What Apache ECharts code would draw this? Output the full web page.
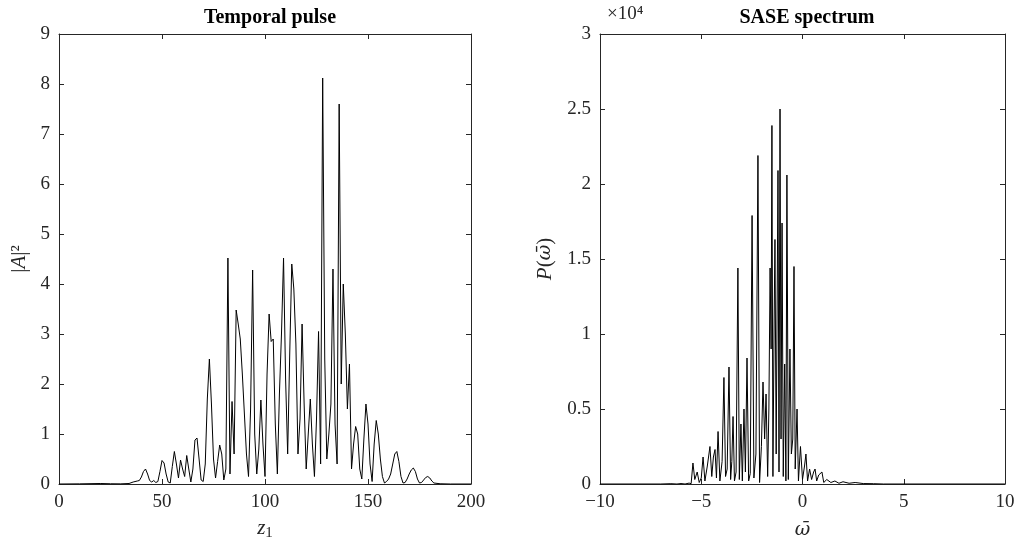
<!DOCTYPE html>
<html><head><meta charset="utf-8">
<script src="https://cdn.jsdelivr.net/npm/echarts@6/dist/echarts.min.js"></script>
<style>html,body{margin:0;padding:0;background:#fff}#c{width:1026px;height:544px}</style>
</head><body><div id="c"></div>
<script>
// Temporal pulse |A|^2 vs z1
const zVals = [0,10,20,25,30,34,36,38,39,40,41,42,43,44,45,46,47,48,49,50,51,52,53,54,55,56,57,58,59,60,61,62,63,64,65,66,67,68,69,70,71,72,73,74,75,76,77,78,79,80,81,82,83,84,85,86,87,88,89,90,91,92,93,94,95,96,97,98,99,100,101,102,103,104,105,106,107,108,109,110,111,112,113,114,115,116,117,118,119,120,121,122,123,124,125,126,127,128,129,130,131,132,133,134,135,136,137,138,139,140,141,142,143,144,145,146,147,148,149,150,151,152,153,154,155,156,157,158,159,160,161,162,163,164,165,166,167,168,169,170,171,172,173,174,175,176,177,178,179,180,181,182,185,190,200];
const aVals = [0,0.003,0.01,0.005,0.003,0.01,0.04,0.06,0.07,0.14,0.25,0.3,0.2,0.07,0.04,0.07,0.03,0.05,0.25,0.47,0.42,0.2,0.04,0.02,0.35,0.65,0.4,0.12,0.48,0.3,0.15,0.57,0.3,0.04,0.3,0.88,0.92,0.5,0.08,0.05,0.4,1.7,2.5,1.6,0.5,0.12,0.45,0.78,0.6,0.08,0.3,4.52,0.2,1.65,0.6,3.48,3.2,2.9,2.2,1.4,0.6,0.15,1.5,4.28,1.0,0.2,0.7,1.68,0.8,0.15,2.2,3.4,2.85,2.9,1.2,0.2,1.8,3.0,4.52,2.1,0.6,2.6,4.4,3.9,2.8,0.6,1.3,3.2,1.6,0.3,1.0,1.7,0.8,0.15,1.3,3.05,0.4,8.12,2.5,0.5,1.0,1.6,4.3,1.2,0.4,7.6,2.0,4.0,3.0,1.5,2.4,0.3,0.8,1.15,1.0,0.3,0.1,0.9,1.6,1.2,0.4,0.05,0.8,1.27,1.0,0.5,0.15,0.02,0.05,0.1,0.2,0.4,0.6,0.65,0.45,0.15,0.02,0.03,0.1,0.2,0.28,0.32,0.25,0.1,0.02,0.03,0.08,0.13,0.15,0.12,0.06,0.02,0.005,0,0];

// SASE spectrum P(omega)
const omegaVals = [-10,-7,-6.5,-6.2,-6,-5.8,-5.6,-5.5,-5.41,-5.32,-5.2,-5.1,-5.0,-4.91,-4.82,-4.7,-4.57,-4.48,-4.4,-4.32,-4.25,-4.17,-4.08,-3.97,-3.88,-3.80,-3.72,-3.63,-3.55,-3.49,-3.43,-3.36,-3.28,-3.19,-3.12,-3.04,-2.97,-2.89,-2.82,-2.74,-2.66,-2.58,-2.49,-2.40,-2.30,-2.20,-2.12,-2.03,-1.95,-1.87,-1.80,-1.72,-1.66,-1.60,-1.55,-1.51,-1.46,-1.40,-1.36,-1.30,-1.21,-1.16,-1.11,-1.06,-1.01,-0.95,-0.88,-0.82,-0.77,-0.70,-0.62,-0.55,-0.48,-0.42,-0.36,-0.27,-0.2,-0.1,0.0,0.1,0.17,0.25,0.35,0.45,0.55,0.62,0.7,0.8,0.96,1.05,1.2,1.4,1.6,1.8,2.0,2.3,2.6,3.0,3.5,4,10];
const powerVals = [0,0,20,0,30,0,60,20,1400,300,800,100,400,1800,200,1200,2500,500,1800,2300,400,3500,200,1500,7100,500,1000,7800,300,1500,4500,200,800,14400,300,4000,200,5000,800,8400,200,700,17900,400,2000,21900,100,2500,6800,3000,6000,500,5000,14400,9000,23900,500,11000,16300,2000,20900,800,25000,3000,17400,500,8000,200,20600,300,9000,2000,3000,14500,1000,5000,200,2500,300,1200,2000,200,1000,300,800,1000,200,600,800,100,300,100,200,50,150,50,100,30,20,0,0];

const serif = '"Liberation Serif","DejaVu Serif",serif';
const dserif = '"DejaVu Serif","Liberation Serif",serif';
const ink = '#262626';
const pulseData = zVals.map((z,i)=>[z,aVals[i]]);
const specData = omegaVals.map((w,i)=>[w,powerVals[i]]);

const nameRich = {
  i:{fontFamily:serif,fontSize:21,fontStyle:'italic',color:ink},
  n:{fontFamily:serif,fontSize:21,color:ink},
  w:{fontFamily:dserif,fontSize:19,fontStyle:'italic',color:ink},
  s:{fontFamily:serif,fontSize:15,color:ink,padding:[10,0,0,0]}
};

function xAx(grid,pos,min,max,interval,name,show,gap){
  return {type:'value',gridIndex:grid,position:pos,min:min,max:max,interval:interval,
    name:show?name:'',nameLocation:'middle',nameGap:gap||38,
    nameTextStyle:{color:ink,rich:nameRich},
    axisLine:{show:true,onZero:false,lineStyle:{color:ink,width:1}},
    axisTick:{show:true,inside:true,length:5,lineStyle:{color:ink}},
    axisLabel:{show:show,fontFamily:serif,fontSize:19,color:ink,margin:9,
      formatter:v=>v<0?'\u2212'+Math.abs(v):String(v)},
    splitLine:{show:false}};
}
function yAx(grid,pos,min,max,interval,name,show,fmt){
  return {type:'value',gridIndex:grid,position:pos,min:min,max:max,interval:interval,
    name:show?name:'',nameLocation:'middle',nameGap:show?(grid===0?29:44):0,nameRotate:90,
    nameTextStyle:{color:ink,rich:nameRich},
    axisLine:{show:true,onZero:false,lineStyle:{color:ink,width:1}},
    axisTick:{show:true,inside:true,length:5,lineStyle:{color:ink}},
    axisLabel:{show:show,fontFamily:serif,fontSize:19,color:ink,margin:9,formatter:fmt},
    splitLine:{show:false}};
}

const chart = echarts.init(document.getElementById('c'),null,{renderer:'canvas'});
chart.setOption({
  backgroundColor:'#fff',
  animation:false,
  title:[
    {text:'Temporal pulse',left:265,top:3,textAlign:'center',textStyle:{fontFamily:serif,fontSize:20,fontWeight:'bold',color:'#000'}},
    {text:'SASE spectrum',left:802,top:3,textAlign:'center',textStyle:{fontFamily:serif,fontSize:20,fontWeight:'bold',color:'#000'}},
    {text:'\u00d710\u2074',left:602,top:0,textStyle:{fontFamily:serif,fontSize:19,fontWeight:'normal',color:ink}}
  ],
  grid:[
    {left:59,right:555,top:34,bottom:60,containLabel:false,outerBoundsMode:'none'},
    {left:600,right:21,top:34,bottom:60,containLabel:false,outerBoundsMode:'none'}
  ],
  xAxis:[
    xAx(0,'bottom',0,200,50,'{i|z}{s|1}',true,32),
    xAx(0,'top',0,200,50,'',false),
    xAx(1,'bottom',-10,10,5,'{w|\u03c9\u0304}',true,37),
    xAx(1,'top',-10,10,5,'',false)
  ],
  yAxis:[
    yAx(0,'left',0,9,1,'{n||}{i|A}{n||\u00b2}',true,v=>String(v)),
    yAx(0,'right',0,9,1,'',false),
    yAx(1,'left',0,30000,5000,'{i|P}{n|(}{w|\u03c9\u0304}{n|)}',true,v=>String(v/10000)),
    yAx(1,'right',0,30000,5000,'',false)
  ],
  series:[
    {type:'line',xAxisIndex:0,yAxisIndex:0,data:pulseData,showSymbol:false,smooth:false,
      lineStyle:{color:'#000',width:1},z:3},
    {type:'line',xAxisIndex:2,yAxisIndex:2,data:specData,showSymbol:false,smooth:false,
      lineStyle:{color:'#000',width:1},z:3}
  ]
});
</script></body></html>
